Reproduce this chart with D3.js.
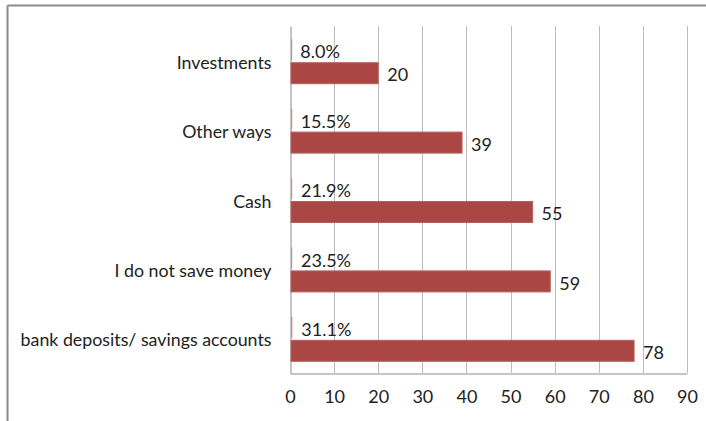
<!DOCTYPE html>
<html>
<head>
<meta charset="utf-8">
<script src="https://cdn.jsdelivr.net/npm/d3@7"></script>
<style>
  body { margin: 0; background: #fff; }
  svg text { font-family: Lato, "Liberation Sans", sans-serif; fill: #222; }
</style>
</head>
<body>
<div id="chart"></div>
<script>
// chart data
var categories = ["Investments", "Other ways", "Cash", "I do not save money", "bank deposits/ savings accounts"];
var shareValues = [0.080, 0.155, 0.219, 0.235, 0.311];
var countValues = [20, 39, 55, 59, 78];
var xTicks = [0, 10, 20, 30, 40, 50, 60, 70, 80, 90];

var svgWidth = 706;
var svgHeight = 421;

var margin = { top: 26, right: 19, bottom: 48, left: 290 };
var chartWidth = svgWidth - margin.left - margin.right;
var chartHeight = svgHeight - margin.top - margin.bottom;

var svg = d3.select("#chart")
    .append("svg")
    .attr("width", svgWidth)
    .attr("height", svgHeight);

// outer frame (only top and left show in the crop)
svg.append("line")
    .attr("x1", 7.5).attr("x2", svgWidth).attr("y1", 5.5).attr("y2", 5.5)
    .attr("stroke", "#8c8c8c").attr("stroke-width", 2);
svg.append("line")
    .attr("x1", 7.5).attr("x2", 7.5).attr("y1", 5.5).attr("y2", svgHeight)
    .attr("stroke", "#8c8c8c").attr("stroke-width", 2);

var chartGroup = svg.append("g")
    .attr("transform", `translate(${margin.left}, ${margin.top})`);

var xScale = d3.scaleLinear()
    .domain([0, 90])
    .range([0, chartWidth]);

var yScale = d3.scaleBand()
    .domain(categories)
    .range([0, chartHeight]);

// gridlines
chartGroup.selectAll(".grid")
    .data(xTicks.slice(1))
    .enter()
    .append("line")
    .attr("x1", d => Math.round(xScale(d)) + 0.5)
    .attr("x2", d => Math.round(xScale(d)) + 0.5)
    .attr("y1", 0)
    .attr("y2", chartHeight)
    .attr("stroke", "#bdbdbd")
    .attr("stroke-width", 1);

// x axis
var bottomAxis = d3.axisBottom(xScale)
    .tickValues(xTicks)
    .tickSize(0)
    .tickPadding(17)
    .tickFormat(d3.format("d"));

var xAxis = chartGroup.append("g")
    .attr("transform", `translate(0, ${chartHeight + 0.5})`)
    .call(bottomAxis);
xAxis.select(".domain").attr("stroke", "#8c8c8c");
xAxis.selectAll("text").style("font-size", "18px").attr("fill", "#222");

// y axis
var leftAxis = d3.axisLeft(yScale)
    .tickSize(0)
    .tickPadding(19);

var yAxis = chartGroup.append("g")
    .attr("transform", "translate(0.5, 0)")
    .call(leftAxis);
yAxis.select(".domain").attr("stroke", "#8c8c8c");
yAxis.selectAll("text")
    .style("font-size", "17.8px")
    .attr("fill", "#222")
    .attr("dy", "0.45em");

var barH = 21;

// share bars (tiny, drawn on the same axis)
chartGroup.selectAll(".share")
    .data(categories)
    .enter()
    .append("rect")
    .attr("x", xScale(0) + 1)
    .attr("y", d => yScale(d) + yScale.bandwidth() / 2 - barH - 0.5)
    .attr("width", (d, i) => Math.max(1.2, xScale(shareValues[i])))
    .attr("height", barH)
    .attr("fill", "#d98a88");

// count bars
chartGroup.selectAll(".count")
    .data(categories)
    .enter()
    .append("rect")
    .attr("x", xScale(0) + 1)
    .attr("y", d => yScale(d) + yScale.bandwidth() / 2 + 2)
    .attr("width", (d, i) => xScale(countValues[i]) - 1)
    .attr("height", barH)
    .attr("fill", "#aa4643")
    .attr("stroke", "#b9605d")
    .attr("stroke-width", 1);

// labels
chartGroup.selectAll(".shareLabel")
    .data(categories)
    .enter()
    .append("text")
    .attr("x", (d, i) => xScale(shareValues[i]) + 10)
    .attr("y", d => yScale(d) + yScale.bandwidth() / 2 - barH / 2)
    .attr("dy", "0.45em")
    .style("font-size", "18px")
    .text((d, i) => d3.format(".1%")(shareValues[i]));

chartGroup.selectAll(".countLabel")
    .data(categories)
    .enter()
    .append("text")
    .attr("x", (d, i) => xScale(countValues[i]) + 9)
    .attr("y", d => yScale(d) + yScale.bandwidth() / 2 + 2 + barH / 2)
    .attr("dy", "0.45em")
    .style("font-size", "18px")
    .text((d, i) => countValues[i]);
</script>
</body>
</html>
